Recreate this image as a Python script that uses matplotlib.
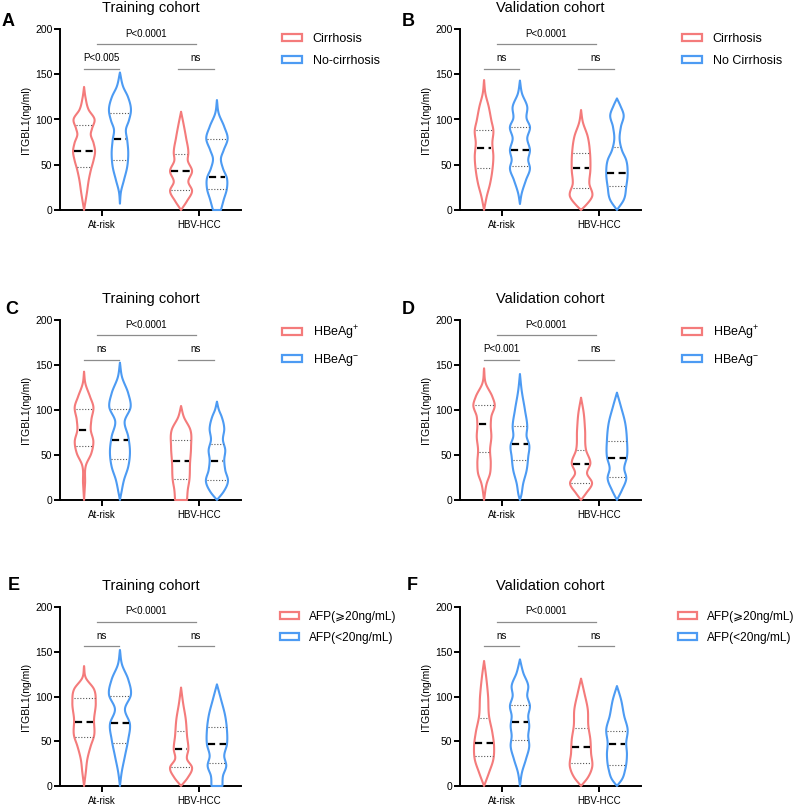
import numpy as np
import matplotlib
matplotlib.use('Agg')
import matplotlib.pyplot as plt
from matplotlib.patches import Patch, Polygon

plt.rcParams['font.family'] = ['Liberation Sans', 'DejaVu Sans', 'Noto Sans CJK SC']
plt.rcParams['mathtext.fontset'] = 'custom'
plt.rcParams['mathtext.rm'] = 'Liberation Sans'
plt.rcParams['mathtext.it'] = 'Liberation Sans:italic'
plt.rcParams['mathtext.bf'] = 'Liberation Sans:bold'

# ---------------- data ----------------
groups = ['At-risk', 'HBV-HCC']
yticks = [0, 50, 100, 150, 200]
letters = ['A', 'B', 'C', 'D', 'E', 'F']
titles = ['Training cohort', 'Validation cohort'] * 3
legend_labels = [
    ['Cirrhosis', 'No-cirrhosis'],
    ['Cirrhosis', 'No Cirrhosis'],
    ['HBeAg$^{+}$', 'HBeAg$^{-}$'],
    ['HBeAg$^{+}$', 'HBeAg$^{-}$'],
    ['AFP(\u2A7E20ng/mL)', 'AFP(<20ng/mL)'],
    ['AFP(\u2A7E20ng/mL)', 'AFP(<20ng/mL)'],
]
p_between = ['P<0.0001'] * 6
p_atrisk = ['P<0.005', 'ns', 'ns', 'P<0.001', 'ns', 'ns']
p_hcc = ['ns'] * 6

# order within a panel: [group1 red, group1 blue, group2 red, group2 blue]
A_median = [65, 78, 43, 37]
A_q1 = [48, 55, 22, 23]
A_q3 = [94, 107, 62, 79]
A_y = [[136, 124, 111, 100, 90, 84, 74, 65, 55, 45, 35, 18, 0],
       [152, 136, 125, 110, 99, 89, 77, 63, 48, 33, 20, 7],
       [108.6, 95, 80, 63, 55, 43, 31, 21, 10, 0],
       [121.5, 107, 92, 79, 66, 57, 46, 35, 24, 11, 0]]
A_w = [[0, 1.5, 4.5, 10.5, 8, 6.7, 9.5, 11, 9.5, 7, 5, 2.7, 0],
       [0, 3.3, 8, 11, 9, 6, 7.3, 8.3, 7.3, 4, 1, 0],
       [0, 2.5, 5, 7.3, 6.7, 11, 7.3, 11, 6, 0],
       [0, 1.7, 7.3, 10.7, 6.7, 4, 6, 10, 10, 6.7, 4]]

B_median = [69, 66, 46, 41]
B_q1 = [46, 49, 24, 27]
B_q3 = [88, 92, 63, 70]
B_y = [[143.6, 129, 114, 99, 88, 74, 59, 44, 29, 15, 0],
       [143, 129, 114, 101, 92, 79, 66, 55, 46, 33, 18, 6.6],
       [110.5, 97.6, 81, 62.6, 44, 29.4, 14.7, 5.5, 0],
       [123.3, 115, 105, 92, 78, 66, 55, 40.5, 25.7, 11, 0]]
B_w = [[0, 1.3, 4.7, 7.3, 9.3, 8.3, 9.3, 8.3, 6, 2.7, 0],
       [0, 2, 7.3, 6.7, 10, 7.3, 10, 8.3, 10, 6, 1.7, 0],
       [0, 1.7, 6.7, 9, 9.3, 8.3, 11, 5, 0],
       [0, 3.5, 6.7, 4, 2.7, 5, 9.3, 10.7, 9.3, 6.7, 0]]

C_median = [78, 67, 43, 43]
C_q1 = [60, 46, 23, 22]
C_q3 = [101, 101, 67, 62]
C_y = [[142.6, 129.6, 114.8, 103.7, 89, 78, 65, 52, 39, 18.5, 0],
       [152.6, 137, 118.5, 103.7, 87, 70.4, 52, 37, 22, 7.4, 0],
       [104.5, 92.6, 78, 59, 41, 22, 11, 0],
       [109.3, 100, 92.6, 79.6, 66.7, 55.6, 44.4, 33.3, 20.4, 9.3, 0]]
C_w = [[0, 1.3, 6, 9.3, 7.3, 6.7, 9.3, 7.3, 2, 1, 0],
       [0, 2, 8.3, 10.7, 4.7, 8.3, 10, 8.3, 4, 1.3, 0],
       [0, 2.7, 9.3, 10, 9, 8.3, 6.7, 6],
       [0, 2, 4.7, 7.3, 6, 8.3, 7.3, 8.3, 11, 6.7, 0]]

D_median = [84, 62, 40, 47]
D_q1 = [53, 44, 18.5, 26]
D_q3 = [106, 82, 56, 65]
D_y = [[146.3, 129.6, 114.8, 105.6, 92.6, 83.3, 70.4, 55.6, 40.7, 29.6, 18.5, 0],
       [140, 122, 100, 81.5, 70.4, 61, 48, 33, 18.5, 3.7, 0],
       [113.7, 96.3, 77.8, 55.6, 40.7, 29.6, 18.5, 7.4, 0],
       [119.3, 103.7, 85.2, 66.7, 48, 35, 24, 11, 0]]
D_w = [[0, 1.7, 8.3, 10.7, 7.3, 6.7, 7.3, 6, 6.7, 6, 2.7, 0],
       [0, 1.7, 5, 7.3, 6.7, 9.3, 8.3, 6.7, 3.3, 1, 0],
       [0, 2.7, 4, 5, 9.3, 6, 11, 5, 0],
       [0, 4, 8.3, 10, 10, 7.3, 9.3, 5, 0]]

E_median = [72, 70, 41, 47]
E_q1 = [55, 48, 21, 26]
E_q3 = [98, 101, 62, 66]
E_y = [[134, 121, 108, 93, 74.5, 56, 44.7, 30, 15, 0],
       [152, 136, 119, 102.4, 85.7, 69, 52, 33.5, 15, 0],
       [110, 93, 74.5, 56, 41, 30, 20.5, 9.3, 0],
       [113.6, 97, 78, 63, 46.6, 33.5, 22.4, 11, 0]]
E_w = [[0, 1.7, 10, 11.7, 10, 10, 6.7, 3.3, 1.7, 0],
       [0, 2, 8.3, 11, 5, 10, 8.3, 5, 1.7, 0],
       [0, 2, 4.7, 6, 7.3, 6, 11, 6.7, 0],
       [0, 4, 8.3, 10, 10, 7.3, 9.3, 6, 5.5]]

F_median = [48, 71, 44, 47]
F_q1 = [33, 51, 26, 24]
F_q3 = [76, 91, 65, 62]
F_y = [[139.7, 123, 100.6, 78, 59.6, 44.7, 29.8, 15, 0],
       [141.5, 126.6, 111.7, 100.6, 89.4, 78.2, 67, 56, 44.7, 29.8, 15, 0],
       [120, 104, 85.7, 67, 52, 37, 20.5, 9.3, 0],
       [111.7, 97, 78, 63, 48, 35, 18.6, 7.4, 0]]
F_w = [[0, 2, 4, 5, 8.3, 10, 9.3, 5, 0],
       [0, 3.3, 8.3, 7.3, 10, 8.3, 9.3, 8.3, 9.3, 6, 2, 0],
       [0, 3.3, 6.7, 7.3, 9.3, 10, 11, 6.7, 0],
       [0, 4, 7.3, 10.7, 9.3, 10, 8.3, 5, 0]]

panels = [
    (A_median, A_q1, A_q3, A_y, A_w),
    (B_median, B_q1, B_q3, B_y, B_w),
    (C_median, C_q1, C_q3, C_y, C_w),
    (D_median, D_q1, D_q3, D_y, D_w),
    (E_median, E_q1, E_q3, E_y, E_w),
    (F_median, F_q1, F_q3, F_y, F_w),
]

# ---------------- style ----------------
RED = '#F47B7B'
BLUE = '#4D9BF3'
COLORS = [RED, BLUE, RED, BLUE]
OFFSET = 0.185
WSCALE = 1.0 / 97.0      # width profile -> x units
FIG_W, FIG_H = 800, 805


def hermite(ys, ws, yy):
    ys = np.asarray(ys, float)
    ws = np.asarray(ws, float)
    order = np.argsort(ys)
    ys, ws = ys[order], ws[order]
    m = np.gradient(ws, ys)
    idx = np.clip(np.searchsorted(ys, yy) - 1, 0, len(ys) - 2)
    h = ys[idx + 1] - ys[idx]
    t = (yy - ys[idx]) / h
    h00 = 2 * t**3 - 3 * t**2 + 1
    h10 = t**3 - 2 * t**2 + t
    h01 = -2 * t**3 + 3 * t**2
    h11 = t**3 - t**2
    out = h00 * ws[idx] + h10 * h * m[idx] + h01 * ws[idx + 1] + h11 * h * m[idx + 1]
    return np.clip(out, 0, None)


def draw_violin(ax, xc, ys, ws, med, q1, q3, color):
    ymin, ymax = min(ys), max(ys)
    yy = np.linspace(ymin, ymax, 400)
    ww = hermite(ys, ws, yy) * WSCALE
    xs = np.concatenate([xc + ww, (xc - ww)[::-1]])
    yv = np.concatenate([yy, yy[::-1]])
    poly = Polygon(np.column_stack([xs, yv]), closed=True, fill=False,
                   edgecolor=color, lw=1.5, joinstyle='round', clip_on=False, zorder=3)
    ax.add_patch(poly)
    for val, ls, lw, col in [(med, (0, (3.2, 2.0)), 1.6, 'black'),
                             (q1, (0, (1.0, 1.6)), 0.8, '#555555'),
                             (q3, (0, (1.0, 1.6)), 0.8, '#555555')]:
        w = hermite(ys, ws, np.array([val]))[0] * WSCALE
        w = max(w - 0.012, 0.01)
        ax.plot([xc - w, xc + w], [val, val], color=col, lw=lw, linestyle=ls,
                zorder=4, solid_capstyle='butt', dash_capstyle='butt')


# axes boxes in pixel coordinates (left, top, right, bottom)
boxes = [(60, 29, 241, 210), (460, 29, 641, 210),
         (60, 320, 241, 500), (460, 320, 641, 500),
         (60, 607, 241, 786), (460, 607, 641, 786)]
letter_pos = [(8, 21), (408, 21), (12, 309), (408, 309), (14, 585), (412, 585)]
legend_x = [222, 222, 222, 222, 220, 218]
legend_fs = [9, 9, 9, 9, 8.6, 8.6]

fig = plt.figure(figsize=(FIG_W / 100, FIG_H / 100), dpi=100)

for k, (box, (med, q1, q3, ys_l, ws_l)) in enumerate(zip(boxes, panels)):
    l, t, r, b = box
    ax = fig.add_axes([l / FIG_W, 1 - b / FIG_H, (r - l) / FIG_W, (b - t) / FIG_H])
    ax.set_xlim(0.567, 2.433)
    ax.set_ylim(0, 200)
    centers = [1 - OFFSET, 1 + OFFSET, 2 - OFFSET, 2 + OFFSET]
    for i in range(4):
        draw_violin(ax, centers[i], ys_l[i], ws_l[i], med[i], q1[i], q3[i], COLORS[i])

    # significance brackets
    gray = '#8c8c8c'
    ax.plot([0.95, 1.965], [183.5, 183.5], color=gray, lw=0.9, clip_on=False)
    ax.text(1.457, 195, p_between[k], ha='center', va='center', fontsize=7)
    ax.plot([0.815, 1.18], [156, 156], color=gray, lw=0.9, clip_on=False)
    ax.text(0.998, 168, p_atrisk[k], ha='center', va='center', fontsize=7)
    ax.plot([1.785, 2.15], [156, 156], color=gray, lw=0.9, clip_on=False)
    ax.text(1.968, 168, p_hcc[k], ha='center', va='center', fontsize=7)

    for s in ['top', 'right']:
        ax.spines[s].set_visible(False)
    for s in ['left', 'bottom']:
        ax.spines[s].set_linewidth(1.4)
    ax.set_yticks(yticks)
    ax.set_xticks([1, 2])
    ax.set_xticklabels(groups)
    ax.tick_params(axis='y', length=4, width=1.4, labelsize=7.5, pad=1.5)
    ax.tick_params(axis='x', length=4.5, width=1.4, labelsize=7, pad=3)
    ax.set_ylabel('ITGBL1(ng/ml)', fontsize=7.5, labelpad=3)
    ax.set_title(titles[k], fontsize=10.5, pad=12)

    handles = [Patch(facecolor='white', edgecolor=RED, linewidth=1.6, label=legend_labels[k][0]),
               Patch(facecolor='white', edgecolor=BLUE, linewidth=1.6, label=legend_labels[k][1])]
    ax.legend(handles=handles, loc='upper left', bbox_to_anchor=(legend_x[k] / 181, 0.98),
              frameon=False, fontsize=legend_fs[k], handlelength=1.6, handleheight=0.5,
              handletextpad=0.85, labelspacing=0.8, borderpad=0, borderaxespad=0)

    fig.text(letter_pos[k][0] / FIG_W, 1 - letter_pos[k][1] / FIG_H, letters[k],
             ha='center', va='center', fontsize=13, fontweight='bold')

fig.savefig('out.png', dpi=100)
